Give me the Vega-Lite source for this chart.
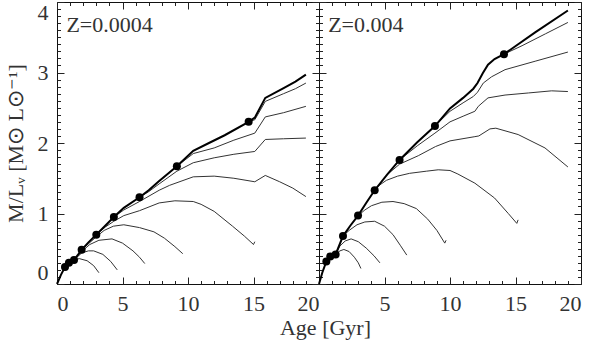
{
  "$schema": "https://vega.github.io/schema/vega-lite/v6.json",
  "padding": {"left": 3, "top": 0, "right": 5, "bottom": 2},
  "spacing": 0,
  "bounds": "flush",
  "config": {
    "view": {"stroke": "#111", "strokeWidth": 1},
    "font": "Liberation Serif",
    "axis": {
      "domain": false, "grid": false, "tickColor": "#222", "tickWidth": 1,
      "labelColor": "#333", "labelFont": "Liberation Serif", "labelFontSize": 22,
      "titleColor": "#333", "titleFont": "Liberation Serif", "titleFontSize": 22, "titleFontWeight": "normal"
    }
  },
  "datasets": {
    "curves": [
      {"p":"L","c":0,"age":0,"ml":0},{"p":"L","c":0,"age":0.3,"ml":0.13},{"p":"L","c":0,"age":0.61,"ml":0.24},{"p":"L","c":0,"age":0.91,"ml":0.30},{"p":"L","c":0,"age":1.3,"ml":0.34},{"p":"L","c":0,"age":1.88,"ml":0.485},{"p":"L","c":0,"age":2.4,"ml":0.59},{"p":"L","c":0,"age":3.0,"ml":0.70},{"p":"L","c":0,"age":3.7,"ml":0.83},{"p":"L","c":0,"age":4.34,"ml":0.95},{"p":"L","c":0,"age":5.1,"ml":1.08},{"p":"L","c":0,"age":6.3,"ml":1.23},{"p":"L","c":0,"age":7.0,"ml":1.33},{"p":"L","c":0,"age":7.8,"ml":1.46},{"p":"L","c":0,"age":9.15,"ml":1.67},{"p":"L","c":0,"age":10.4,"ml":1.89},{"p":"L","c":0,"age":11.6,"ml":2.0},{"p":"L","c":0,"age":12.8,"ml":2.11},{"p":"L","c":0,"age":14.63,"ml":2.30},{"p":"L","c":0,"age":15.1,"ml":2.36},{"p":"L","c":0,"age":15.9,"ml":2.64},{"p":"L","c":0,"age":17.3,"ml":2.78},{"p":"L","c":0,"age":18.2,"ml":2.87},{"p":"L","c":0,"age":19.0,"ml":2.97},
      {"p":"L","c":1,"age":14.63,"ml":2.30},{"p":"L","c":1,"age":15.1,"ml":2.33},{"p":"L","c":1,"age":15.9,"ml":2.59},{"p":"L","c":1,"age":17.3,"ml":2.70},{"p":"L","c":1,"age":18.2,"ml":2.77},{"p":"L","c":1,"age":19.0,"ml":2.85},
      {"p":"L","c":2,"age":9.15,"ml":1.67},{"p":"L","c":2,"age":10.4,"ml":1.85},{"p":"L","c":2,"age":12.0,"ml":1.93},{"p":"L","c":2,"age":13.5,"ml":2.04},{"p":"L","c":2,"age":15.1,"ml":2.14},{"p":"L","c":2,"age":15.9,"ml":2.37},{"p":"L","c":2,"age":17.3,"ml":2.43},{"p":"L","c":2,"age":19.0,"ml":2.52},
      {"p":"L","c":3,"age":6.3,"ml":1.23},{"p":"L","c":3,"age":7.0,"ml":1.31},{"p":"L","c":3,"age":7.8,"ml":1.42},{"p":"L","c":3,"age":9.15,"ml":1.60},{"p":"L","c":3,"age":10.4,"ml":1.72},{"p":"L","c":3,"age":12.0,"ml":1.79},{"p":"L","c":3,"age":13.5,"ml":1.84},{"p":"L","c":3,"age":15.1,"ml":1.88},{"p":"L","c":3,"age":15.9,"ml":2.05},{"p":"L","c":3,"age":17.3,"ml":2.06},{"p":"L","c":3,"age":19.0,"ml":2.07},
      {"p":"L","c":4,"age":4.34,"ml":0.95},{"p":"L","c":4,"age":5.1,"ml":1.05},{"p":"L","c":4,"age":6.3,"ml":1.17},{"p":"L","c":4,"age":7.8,"ml":1.33},{"p":"L","c":4,"age":8.6,"ml":1.40},{"p":"L","c":4,"age":10.4,"ml":1.52},{"p":"L","c":4,"age":12.0,"ml":1.53},{"p":"L","c":4,"age":13.5,"ml":1.50},{"p":"L","c":4,"age":15.1,"ml":1.45},{"p":"L","c":4,"age":15.9,"ml":1.54},{"p":"L","c":4,"age":17.0,"ml":1.45},{"p":"L","c":4,"age":18.0,"ml":1.36},{"p":"L","c":4,"age":19.0,"ml":1.24},
      {"p":"L","c":5,"age":3.0,"ml":0.70},{"p":"L","c":5,"age":3.7,"ml":0.81},{"p":"L","c":5,"age":4.34,"ml":0.89},{"p":"L","c":5,"age":5.1,"ml":0.97},{"p":"L","c":5,"age":6.3,"ml":1.04},{"p":"L","c":5,"age":7.8,"ml":1.15},{"p":"L","c":5,"age":9.0,"ml":1.18},{"p":"L","c":5,"age":10.4,"ml":1.17},{"p":"L","c":5,"age":11.0,"ml":1.13},{"p":"L","c":5,"age":12.0,"ml":1.03},{"p":"L","c":5,"age":13.4,"ml":0.82},{"p":"L","c":5,"age":14.3,"ml":0.68},{"p":"L","c":5,"age":15.0,"ml":0.56},{"p":"L","c":5,"age":15.1,"ml":0.60},
      {"p":"L","c":6,"age":1.88,"ml":0.485},{"p":"L","c":6,"age":2.4,"ml":0.57},{"p":"L","c":6,"age":3.0,"ml":0.67},{"p":"L","c":6,"age":3.6,"ml":0.76},{"p":"L","c":6,"age":4.3,"ml":0.82},{"p":"L","c":6,"age":5.1,"ml":0.84},{"p":"L","c":6,"age":6.3,"ml":0.80},{"p":"L","c":6,"age":7.4,"ml":0.74},{"p":"L","c":6,"age":8.2,"ml":0.65},{"p":"L","c":6,"age":9.0,"ml":0.53},{"p":"L","c":6,"age":9.6,"ml":0.43},
      {"p":"L","c":7,"age":1.3,"ml":0.34},{"p":"L","c":7,"age":1.88,"ml":0.46},{"p":"L","c":7,"age":2.5,"ml":0.56},{"p":"L","c":7,"age":3.2,"ml":0.62},{"p":"L","c":7,"age":4.2,"ml":0.64},{"p":"L","c":7,"age":5.0,"ml":0.58},{"p":"L","c":7,"age":5.8,"ml":0.47},{"p":"L","c":7,"age":6.3,"ml":0.38},{"p":"L","c":7,"age":6.7,"ml":0.29},
      {"p":"L","c":8,"age":1.3,"ml":0.34},{"p":"L","c":8,"age":1.88,"ml":0.44},{"p":"L","c":8,"age":2.4,"ml":0.47},{"p":"L","c":8,"age":2.8,"ml":0.47},{"p":"L","c":8,"age":3.5,"ml":0.42},{"p":"L","c":8,"age":4.1,"ml":0.32},{"p":"L","c":8,"age":4.6,"ml":0.20},
      {"p":"L","c":9,"age":1.3,"ml":0.34},{"p":"L","c":9,"age":1.7,"ml":0.36},{"p":"L","c":9,"age":2.3,"ml":0.33},{"p":"L","c":9,"age":2.8,"ml":0.26},{"p":"L","c":9,"age":3.2,"ml":0.16},
      {"p":"R","c":0,"age":0,"ml":0},{"p":"R","c":0,"age":0.25,"ml":0.16},{"p":"R","c":0,"age":0.56,"ml":0.32},{"p":"R","c":0,"age":0.86,"ml":0.39},{"p":"R","c":0,"age":1.27,"ml":0.42},{"p":"R","c":0,"age":1.83,"ml":0.68},{"p":"R","c":0,"age":2.4,"ml":0.83},{"p":"R","c":0,"age":2.98,"ml":0.97},{"p":"R","c":0,"age":3.6,"ml":1.15},{"p":"R","c":0,"age":4.25,"ml":1.33},{"p":"R","c":0,"age":5.2,"ml":1.55},{"p":"R","c":0,"age":6.15,"ml":1.76},{"p":"R","c":0,"age":7.5,"ml":2.01},{"p":"R","c":0,"age":8.85,"ml":2.24},{"p":"R","c":0,"age":10.0,"ml":2.49},{"p":"R","c":0,"age":11.0,"ml":2.64},{"p":"R","c":0,"age":11.78,"ml":2.77},{"p":"R","c":0,"age":12.1,"ml":2.85},{"p":"R","c":0,"age":12.5,"ml":2.99},{"p":"R","c":0,"age":12.9,"ml":3.11},{"p":"R","c":0,"age":13.4,"ml":3.19},{"p":"R","c":0,"age":14.12,"ml":3.26},{"p":"R","c":0,"age":16.5,"ml":3.57},{"p":"R","c":0,"age":19.0,"ml":3.88},
      {"p":"R","c":1,"age":14.12,"ml":3.26},{"p":"R","c":1,"age":15.5,"ml":3.38},{"p":"R","c":1,"age":17.3,"ml":3.55},{"p":"R","c":1,"age":19.0,"ml":3.71},
      {"p":"R","c":2,"age":8.85,"ml":2.24},{"p":"R","c":2,"age":10.0,"ml":2.45},{"p":"R","c":2,"age":11.0,"ml":2.57},{"p":"R","c":2,"age":11.78,"ml":2.66},{"p":"R","c":2,"age":12.1,"ml":2.72},{"p":"R","c":2,"age":12.54,"ml":2.85},{"p":"R","c":2,"age":13.18,"ml":2.94},{"p":"R","c":2,"age":14.2,"ml":3.04},{"p":"R","c":2,"age":16.5,"ml":3.16},{"p":"R","c":2,"age":19.0,"ml":3.29},
      {"p":"R","c":3,"age":6.15,"ml":1.76},{"p":"R","c":3,"age":7.5,"ml":1.96},{"p":"R","c":3,"age":8.85,"ml":2.14},{"p":"R","c":3,"age":10.0,"ml":2.30},{"p":"R","c":3,"age":11.0,"ml":2.38},{"p":"R","c":3,"age":11.9,"ml":2.45},{"p":"R","c":3,"age":12.16,"ml":2.52},{"p":"R","c":3,"age":12.9,"ml":2.64},{"p":"R","c":3,"age":14.2,"ml":2.68},{"p":"R","c":3,"age":16.0,"ml":2.71},{"p":"R","c":3,"age":17.76,"ml":2.74},{"p":"R","c":3,"age":19.0,"ml":2.73},
      {"p":"R","c":4,"age":5.2,"ml":1.55},{"p":"R","c":4,"age":6.15,"ml":1.70},{"p":"R","c":4,"age":7.58,"ml":1.82},{"p":"R","c":4,"age":8.9,"ml":1.95},{"p":"R","c":4,"age":10.0,"ml":2.03},{"p":"R","c":4,"age":11.9,"ml":2.09},{"p":"R","c":4,"age":12.2,"ml":2.10},{"p":"R","c":4,"age":13.05,"ml":2.20},{"p":"R","c":4,"age":13.5,"ml":2.21},{"p":"R","c":4,"age":15.2,"ml":2.12},{"p":"R","c":4,"age":17.25,"ml":1.93},{"p":"R","c":4,"age":19.0,"ml":1.66},
      {"p":"R","c":5,"age":4.25,"ml":1.33},{"p":"R","c":5,"age":4.6,"ml":1.40},{"p":"R","c":5,"age":5.14,"ml":1.47},{"p":"R","c":5,"age":6.0,"ml":1.53},{"p":"R","c":5,"age":6.92,"ml":1.57},{"p":"R","c":5,"age":8.19,"ml":1.60},{"p":"R","c":5,"age":9.1,"ml":1.62},{"p":"R","c":5,"age":10.0,"ml":1.61},{"p":"R","c":5,"age":10.6,"ml":1.56},{"p":"R","c":5,"age":11.9,"ml":1.43},{"p":"R","c":5,"age":13.4,"ml":1.22},{"p":"R","c":5,"age":14.45,"ml":1.0},{"p":"R","c":5,"age":15.1,"ml":0.86},{"p":"R","c":5,"age":15.2,"ml":0.91},
      {"p":"R","c":6,"age":2.98,"ml":0.97},{"p":"R","c":6,"age":3.5,"ml":1.05},{"p":"R","c":6,"age":4.0,"ml":1.11},{"p":"R","c":6,"age":4.8,"ml":1.16},{"p":"R","c":6,"age":5.65,"ml":1.17},{"p":"R","c":6,"age":6.5,"ml":1.14},{"p":"R","c":6,"age":7.43,"ml":1.07},{"p":"R","c":6,"age":8.3,"ml":0.92},{"p":"R","c":6,"age":9.0,"ml":0.76},{"p":"R","c":6,"age":9.6,"ml":0.58},{"p":"R","c":6,"age":9.7,"ml":0.62},
      {"p":"R","c":7,"age":1.83,"ml":0.68},{"p":"R","c":7,"age":2.3,"ml":0.76},{"p":"R","c":7,"age":2.9,"ml":0.84},{"p":"R","c":7,"age":3.5,"ml":0.88},{"p":"R","c":7,"age":4.25,"ml":0.89},{"p":"R","c":7,"age":5.0,"ml":0.82},{"p":"R","c":7,"age":5.65,"ml":0.70},{"p":"R","c":7,"age":6.2,"ml":0.55},{"p":"R","c":7,"age":6.7,"ml":0.41},
      {"p":"R","c":8,"age":1.27,"ml":0.42},{"p":"R","c":8,"age":1.6,"ml":0.54},{"p":"R","c":8,"age":2.0,"ml":0.61},{"p":"R","c":8,"age":2.45,"ml":0.64},{"p":"R","c":8,"age":3.0,"ml":0.60},{"p":"R","c":8,"age":3.6,"ml":0.51},{"p":"R","c":8,"age":4.2,"ml":0.40},{"p":"R","c":8,"age":4.65,"ml":0.30},
      {"p":"R","c":9,"age":1.27,"ml":0.42},{"p":"R","c":9,"age":1.6,"ml":0.47},{"p":"R","c":9,"age":1.9,"ml":0.49},{"p":"R","c":9,"age":2.3,"ml":0.46},{"p":"R","c":9,"age":2.7,"ml":0.38},{"p":"R","c":9,"age":3.0,"ml":0.30},{"p":"R","c":9,"age":3.2,"ml":0.22}
    ],
    "dots": [
      {"p":"L","age":0.61,"ml":0.24},{"p":"L","age":0.91,"ml":0.30},{"p":"L","age":1.3,"ml":0.34},{"p":"L","age":1.88,"ml":0.485},{"p":"L","age":3.0,"ml":0.70},{"p":"L","age":4.34,"ml":0.95},{"p":"L","age":6.3,"ml":1.23},{"p":"L","age":9.15,"ml":1.67},{"p":"L","age":14.63,"ml":2.30},
      {"p":"R","age":0.56,"ml":0.32},{"p":"R","age":0.86,"ml":0.39},{"p":"R","age":1.27,"ml":0.42},{"p":"R","age":1.83,"ml":0.68},{"p":"R","age":2.98,"ml":0.97},{"p":"R","age":4.25,"ml":1.33},{"p":"R","age":6.15,"ml":1.76},{"p":"R","age":8.85,"ml":2.24},{"p":"R","age":14.12,"ml":3.26}
    ]
  },
  "hconcat": [
    {
      "width": 262, "height": 282,
      "resolve": {"axis": {"x": "independent", "y": "independent"}},
      "layer": [
        {
          "data": {"name": "curves"},
          "transform": [{"filter": "datum.p == 'L' && datum.c > 0"}],
          "mark": {"type": "line", "color": "#333", "strokeWidth": 1},
          "encoding": {
            "x": {"field": "age", "type": "quantitative", "scale": {"domain": [0, 20], "nice": false, "zero": false},
                  "axis": {"orient": "bottom", "values": [0, 5, 10, 15, 20], "tickSize": -7, "labelPadding": 16, "title": "Age [Gyr]", "titleX": 268, "titleAlign": "center", "titlePadding": 3}},
            "y": {"field": "ml", "type": "quantitative", "scale": {"domain": [0, 4], "nice": false, "zero": false},
                  "axis": {"orient": "left", "values": [0, 1, 2, 3, 4], "tickSize": -7, "labelPadding": 16, "labelFlush": true, "title": "M/Lᵥ [M⊙ L⊙⁻¹]", "titlePadding": 10}},
            "detail": {"field": "c"}
          }
        },
        {
          "data": {"name": "curves"},
          "transform": [{"filter": "datum.p == 'L' && datum.c == 0"}],
          "mark": {"type": "line", "color": "#000", "strokeWidth": 2},
          "encoding": {
            "x": {"field": "age", "type": "quantitative", "scale": {"domain": [0, 20], "nice": false, "zero": false},
                  "axis": {"orient": "bottom", "values": [1,2,3,4,6,7,8,9,11,12,13,14,16,17,18,19], "tickSize": -3.5, "labels": false, "title": null}},
            "y": {"field": "ml", "type": "quantitative", "scale": {"domain": [0, 4], "nice": false, "zero": false},
                  "axis": {"orient": "left", "values": [0.1,0.2,0.3,0.4,0.5,0.6,0.7,0.8,0.9,1.1,1.2,1.3,1.4,1.5,1.6,1.7,1.8,1.9,2.1,2.2,2.3,2.4,2.5,2.6,2.7,2.8,2.9,3.1,3.2,3.3,3.4,3.5,3.6,3.7,3.8,3.9], "tickSize": -3.5, "labels": false, "title": null}}
          }
        },
        {
          "data": {"name": "dots"},
          "transform": [{"filter": "datum.p == 'L'"}],
          "mark": {"type": "circle", "color": "#000", "opacity": 1, "size": 64},
          "encoding": {
            "x": {"field": "age", "type": "quantitative", "scale": {"domain": [0, 20], "nice": false, "zero": false},
                  "axis": {"orient": "top", "values": [0, 5, 10, 15, 20], "tickSize": -7, "labels": false, "title": null}},
            "y": {"field": "ml", "type": "quantitative", "scale": {"domain": [0, 4], "nice": false, "zero": false},
                  "axis": {"orient": "right", "values": [0, 1, 2, 3, 4], "tickSize": -7, "labels": false, "title": null}}
          }
        },
        {
          "data": {"values": [{}]},
          "mark": {"type": "text", "align": "left", "baseline": "alphabetic", "font": "Liberation Serif", "fontSize": 22, "color": "#333"},
          "encoding": {
            "x": {"datum": 0.72, "type": "quantitative", "scale": {"domain": [0, 20], "nice": false, "zero": false},
                  "axis": {"orient": "top", "values": [1,2,3,4,6,7,8,9,11,12,13,14,16,17,18,19], "tickSize": -3.5, "labels": false, "title": null}},
            "y": {"datum": 3.58, "type": "quantitative", "scale": {"domain": [0, 4], "nice": false, "zero": false},
                  "axis": {"orient": "right", "values": [0.1,0.2,0.3,0.4,0.5,0.6,0.7,0.8,0.9,1.1,1.2,1.3,1.4,1.5,1.6,1.7,1.8,1.9,2.1,2.2,2.3,2.4,2.5,2.6,2.7,2.8,2.9,3.1,3.2,3.3,3.4,3.5,3.6,3.7,3.8,3.9], "tickSize": -3.5, "labels": false, "title": null}},
            "text": {"value": "Z=0.0004"}
          }
        }
      ]
    },
    {
      "width": 262, "height": 282,
      "resolve": {"axis": {"x": "independent", "y": "independent"}},
      "layer": [
        {
          "data": {"name": "curves"},
          "transform": [{"filter": "datum.p == 'R' && datum.c > 0"}],
          "mark": {"type": "line", "color": "#333", "strokeWidth": 1},
          "encoding": {
            "x": {"field": "age", "type": "quantitative", "scale": {"domain": [0, 20], "nice": false, "zero": false},
                  "axis": {"orient": "bottom", "values": [0, 5, 10, 15, 20], "tickSize": -7, "labelPadding": 16, "labelExpr": "datum.value == 0 ? '' : datum.label", "title": null}},
            "y": {"field": "ml", "type": "quantitative", "scale": {"domain": [0, 4], "nice": false, "zero": false},
                  "axis": {"orient": "left", "values": [0, 1, 2, 3, 4], "tickSize": -7, "labels": false, "title": null}},
            "detail": {"field": "c"}
          }
        },
        {
          "data": {"name": "curves"},
          "transform": [{"filter": "datum.p == 'R' && datum.c == 0"}],
          "mark": {"type": "line", "color": "#000", "strokeWidth": 2},
          "encoding": {
            "x": {"field": "age", "type": "quantitative", "scale": {"domain": [0, 20], "nice": false, "zero": false},
                  "axis": {"orient": "bottom", "values": [1,2,3,4,6,7,8,9,11,12,13,14,16,17,18,19], "tickSize": -3.5, "labels": false, "title": null}},
            "y": {"field": "ml", "type": "quantitative", "scale": {"domain": [0, 4], "nice": false, "zero": false},
                  "axis": {"orient": "left", "values": [0.1,0.2,0.3,0.4,0.5,0.6,0.7,0.8,0.9,1.1,1.2,1.3,1.4,1.5,1.6,1.7,1.8,1.9,2.1,2.2,2.3,2.4,2.5,2.6,2.7,2.8,2.9,3.1,3.2,3.3,3.4,3.5,3.6,3.7,3.8,3.9], "tickSize": -3.5, "labels": false, "title": null}}
          }
        },
        {
          "data": {"name": "dots"},
          "transform": [{"filter": "datum.p == 'R'"}],
          "mark": {"type": "circle", "color": "#000", "opacity": 1, "size": 64},
          "encoding": {
            "x": {"field": "age", "type": "quantitative", "scale": {"domain": [0, 20], "nice": false, "zero": false},
                  "axis": {"orient": "top", "values": [0, 5, 10, 15, 20], "tickSize": -7, "labels": false, "title": null}},
            "y": {"field": "ml", "type": "quantitative", "scale": {"domain": [0, 4], "nice": false, "zero": false},
                  "axis": {"orient": "right", "values": [0, 1, 2, 3, 4], "tickSize": -7, "labels": false, "title": null}}
          }
        },
        {
          "data": {"values": [{}]},
          "mark": {"type": "text", "align": "left", "baseline": "alphabetic", "font": "Liberation Serif", "fontSize": 22, "color": "#333"},
          "encoding": {
            "x": {"datum": 0.7, "type": "quantitative", "scale": {"domain": [0, 20], "nice": false, "zero": false},
                  "axis": {"orient": "top", "values": [1,2,3,4,6,7,8,9,11,12,13,14,16,17,18,19], "tickSize": -3.5, "labels": false, "title": null}},
            "y": {"datum": 3.58, "type": "quantitative", "scale": {"domain": [0, 4], "nice": false, "zero": false},
                  "axis": {"orient": "right", "values": [0.1,0.2,0.3,0.4,0.5,0.6,0.7,0.8,0.9,1.1,1.2,1.3,1.4,1.5,1.6,1.7,1.8,1.9,2.1,2.2,2.3,2.4,2.5,2.6,2.7,2.8,2.9,3.1,3.2,3.3,3.4,3.5,3.6,3.7,3.8,3.9], "tickSize": -3.5, "labels": false, "title": null}},
            "text": {"value": "Z=0.004"}
          }
        }
      ]
    }
  ]
}
